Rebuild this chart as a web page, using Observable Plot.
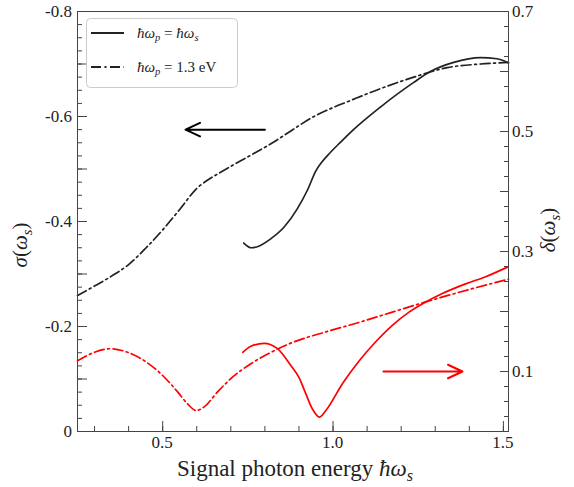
<!DOCTYPE html>
<html><head><meta charset="utf-8">
<script src="https://cdn.jsdelivr.net/npm/d3@7"></script>
<script src="https://cdn.jsdelivr.net/npm/@observablehq/plot@0.6"></script>
<style>
body{margin:0;background:#fff;}
#wrap{position:relative;width:574px;height:487px;}
</style></head><body><div id="wrap"></div>
<script>
// ---- data ----
// black solid: sigma, ħωp = ħωs (left axis)
const sigSameX = [0.738,0.760,0.778,0.817,0.856,0.895,0.925,0.950,0.968,0.990,1.022,1.060,1.139,1.237,1.287,1.354,1.433,1.481,1.515];
const sigSameV = [-0.359,-0.350,-0.352,-0.367,-0.389,-0.424,-0.460,-0.497,-0.514,-0.530,-0.551,-0.575,-0.618,-0.665,-0.686,-0.703,-0.712,-0.710,-0.702];
// black dash-dot: sigma, ħωp = 1.3 eV (left axis)
const sigPumpX = [0.25,0.30,0.35,0.40,0.45,0.50,0.55,0.60,0.63,0.66,0.70,0.758,0.82,0.875,0.944,1.0,1.042,1.139,1.237,1.335,1.433,1.515];
const sigPumpV = [-0.259,-0.277,-0.296,-0.318,-0.349,-0.384,-0.423,-0.463,-0.478,-0.490,-0.505,-0.526,-0.549,-0.572,-0.600,-0.617,-0.628,-0.653,-0.675,-0.693,-0.700,-0.703];
// red solid: delta, ħωp = ħωs (right axis)
const delSameX = [0.735,0.759,0.798,0.837,0.876,0.901,0.920,0.940,0.960,0.979,1.028,1.077,1.126,1.174,1.223,1.272,1.321,1.389,1.448,1.512];
const delSameV = [0.132,0.142,0.147,0.138,0.110,0.089,0.063,0.037,0.024,0.035,0.080,0.118,0.150,0.177,0.199,0.216,0.230,0.246,0.258,0.274];
// red dash-dot: delta, ħωp = 1.3 eV (right axis)
const delPumpX = [0.25,0.300,0.348,0.397,0.446,0.495,0.544,0.573,0.598,0.622,0.661,0.710,0.759,0.818,0.879,0.979,1.077,1.174,1.272,1.370,1.515];
const delPumpV = [0.118,0.132,0.138,0.132,0.118,0.096,0.066,0.046,0.035,0.041,0.066,0.093,0.113,0.132,0.148,0.166,0.182,0.199,0.216,0.232,0.254];
// arrows (axis indicators): [x from, x to, value]
const arrowBlack = [0.80, 0.567, -0.575];   // sigma units
const arrowRed = [1.148, 1.380, 0.10];      // delta units
// ticks
const xTickLabels = [0.5, 1.0, 1.5];
const leftTickLabels = [0, -0.2, -0.4, -0.6, -0.8];
const rightTickLabels = [0.1, 0.3, 0.5, 0.7];

// ---- helpers ----
const k = 0.8 / 0.7;               // right axis (δ) mapped onto left axis (σ)
const dToY = d => -d * k;
const series = (xs, vs, f = v => v) => xs.map((x, i) => ({x, y: f(vs[i])}));

const W = 574, H = 487, mL = 77, mR = 66, mT = 11, mB = 56;
const iW = W - mL - mR, iH = H - mT - mB;

const xMinor = d3.range(3, 16).map(i => i / 10);
const xMajor = xTickLabels;
const leftMid = d3.range(0, 9).map(i => -i / 10);
const leftMinor = d3.range(0, 33).map(i => -i * 0.025);
const rightMid = d3.range(0, 8).map(i => dToY(i / 10));
const rightMinor = d3.range(0, 29).map(i => dToY(i * 0.025));

const font = '"Liberation Serif","Times New Roman",serif';
const dash = "10,3.5,2,3.5";

const plot = Plot.plot({
  width: W, height: H,
  marginLeft: mL, marginRight: mR, marginTop: mT, marginBottom: mB,
  style: {color: "#222", background: "#fff"},
  x: {domain: [0.25, 1.515], axis: null},
  y: {domain: [0, -0.8], axis: null},
  marks: [
    Plot.ruleX(xMinor, {x: d => d, insetTop: iH - 5, stroke: "#444"}),
    Plot.ruleX(xMajor, {x: d => d, insetTop: iH - 10, stroke: "#444"}),
    Plot.ruleY(leftMinor, {y: d => d, insetRight: iW - 5, stroke: "#444"}),
    Plot.ruleY(leftMid, {y: d => d, insetRight: iW - 10, stroke: "#444"}),
    Plot.ruleY(rightMinor, {y: d => d, insetLeft: iW - 4, stroke: "#444"}),
    Plot.ruleY(rightMid, {y: d => d, insetLeft: iW - 8, stroke: "#444"}),
    Plot.line(series(delPumpX, delPumpV, dToY), {x: "x", y: "y", stroke: "#ff0000", strokeWidth: 1.7, strokeDasharray: dash, curve: "monotone-x"}),
    Plot.line(series(delSameX, delSameV, dToY), {x: "x", y: "y", stroke: "#ff0000", strokeWidth: 1.7, curve: "monotone-x"}),
    Plot.line(series(sigPumpX, sigPumpV), {x: "x", y: "y", stroke: "#222", strokeWidth: 1.7, strokeDasharray: dash, curve: "monotone-x"}),
    Plot.line(series(sigSameX, sigSameV), {x: "x", y: "y", stroke: "#222", strokeWidth: 1.7, curve: "monotone-x"}),
    Plot.arrow([arrowBlack], {x1: d => d[0], x2: d => d[1], y1: d => d[2], y2: d => d[2],
      stroke: "#000", strokeWidth: 2, headLength: 12, headAngle: 50}),
    Plot.arrow([arrowRed], {x1: d => d[0], x2: d => d[1], y1: d => dToY(d[2]), y2: d => dToY(d[2]),
      stroke: "#ff0000", strokeWidth: 2, headLength: 12, headAngle: 50}),
    Plot.frame({stroke: "#444"})
  ]
});
document.getElementById("wrap").appendChild(plot);

const svg = d3.select(plot);
const xs = plot.scale("x"), ys = plot.scale("y");

function mathText(g, parts, size, anchor) {
  const t = g.append("text").attr("font-size", size)
    .attr("fill", "#222").attr("text-anchor", anchor || "start").style("font-family", font);
  parts.forEach(p => {
    const s = t.append("tspan").text(p.t);
    if (p.i) s.attr("font-style", "italic");
    if (p.sub) s.attr("font-size", size * 0.7).attr("dy", size * 0.22);
    if (p.up) s.attr("dy", -size * 0.22);
  });
  return t;
}

// ---- tick labels, placed through Plot's scales ----
const tl = svg.append("g");
xTickLabels.forEach(v => mathText(tl.append("g").attr("transform", `translate(${xs.apply(v)},448)`),
  [{t: v.toFixed(1)}], 17, "middle"));
leftTickLabels.forEach(v => mathText(tl.append("g").attr("transform", `translate(72,${ys.apply(v) + 6})`),
  [{t: v === 0 ? "0" : v.toFixed(1)}], 17, "end"));
rightTickLabels.forEach(v => mathText(tl.append("g").attr("transform", `translate(512,${ys.apply(dToY(v)) + 6})`),
  [{t: v.toFixed(1)}], 17, "start"));

// x label
mathText(svg.append("g").attr("transform", `translate(295,476)`),
  [{t: "Signal photon energy "}, {t: "ħω", i: 1}, {t: "s", i: 1, sub: 1}], 23, "middle");
// left label
mathText(svg.append("g").attr("transform", `translate(27,245) rotate(-90)`),
  [{t: "σ", i: 1}, {t: "("}, {t: "ω", i: 1}, {t: "s", i: 1, sub: 1}, {t: ")", up: 1}], 21, "middle");
// right label
mathText(svg.append("g").attr("transform", `translate(555,230) rotate(-90)`),
  [{t: "δ", i: 1}, {t: "("}, {t: "ω", i: 1}, {t: "s", i: 1, sub: 1}, {t: ")", up: 1}], 21, "middle");

// legend
const lg = svg.append("g");
lg.append("rect").attr("x", 86.5).attr("y", 18.5).attr("width", 151).attr("height", 69)
  .attr("rx", 4).attr("fill", "#fff").attr("stroke", "#ccc");
const legRows = [
  {dash: null, parts: [{t: "ħω", i: 1}, {t: "p", i: 1, sub: 1}, {t: " = ", up: 1}, {t: "ħω", i: 1}, {t: "s", i: 1, sub: 1}]},
  {dash: dash, parts: [{t: "ħω", i: 1}, {t: "p", i: 1, sub: 1}, {t: " = 1.3 eV", up: 1}]}
];
legRows.forEach((r, i) => {
  const yy = 33 + i * 34;
  const ln = lg.append("line").attr("x1", 91).attr("x2", 124).attr("y1", yy).attr("y2", yy)
    .attr("stroke", "#222").attr("stroke-width", 1.8);
  if (r.dash) ln.attr("stroke-dasharray", r.dash);
  mathText(lg.append("g").attr("transform", `translate(137,${yy + 5})`), r.parts, 15, "start");
});
</script></body></html>
